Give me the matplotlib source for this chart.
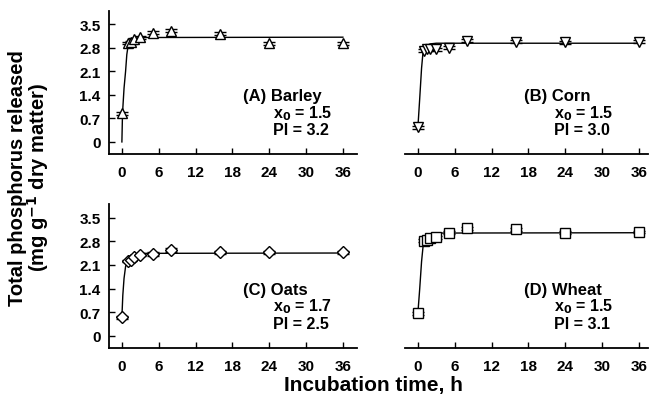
import numpy as np
import matplotlib.pyplot as plt

plt.rcParams['font.family'] = ['Liberation Sans', 'DejaVu Sans']
plt.rcParams['font.weight'] = 'bold'

times = [0, 1, 1.5, 2, 3, 5, 8, 16, 24, 36]

barley = [0.85, 2.95, 2.97, 3.06, 3.12, 3.25, 3.31, 3.22, 2.94, 2.94]
corn = [0.43, 2.72, 2.76, 2.77, 2.76, 2.81, 3.02, 2.99, 2.97, 2.99]
oats = [0.55, 2.21, 2.24, 2.32, 2.39, 2.42, 2.54, 2.47, 2.47, 2.47]
wheat = [0.67, 2.81, 2.83, 2.88, 2.91, 3.05, 3.18, 3.15, 3.05, 3.07]
err = [0.04, 0.04, 0.04, 0.04, 0.04, 0.05, 0.05, 0.04, 0.04, 0.04]

# fitted curves
barley_fit_t = [0, 0.1, 0.35, 0.6, 0.8, 1.0, 1.5, 2, 3, 36]
barley_fit = [0, 0.85, 1.6, 2.1, 2.6, 2.85, 3.02, 3.08, 3.11, 3.12]
corn_fit_t = [0, 0.3, 0.6, 0.85, 1.2, 2, 3, 36]
corn_fit = [0.43, 1.3, 2.2, 2.7, 2.85, 2.92, 2.94, 2.94]
oats_fit_t = [0, 0.15, 0.35, 0.6, 1, 1.5, 2, 3, 36]
oats_fit = [0.55, 1.2, 1.7, 2.05, 2.25, 2.35, 2.4, 2.44, 2.45]
wheat_fit_t = [0, 0.3, 0.6, 0.9, 1.3, 2, 3, 36]
wheat_fit = [0.67, 1.4, 2.2, 2.75, 2.92, 3.0, 3.04, 3.05]

labels = ['(A) Barley', '(B) Corn', '(C) Oats', '(D) Wheat']
x0_vals = ['1.5', '1.5', '1.7', '1.5']
pi_vals = ['3.2', '3.0', '2.5', '3.1']
yticks = [0, 0.7, 1.4, 2.1, 2.8, 3.5]
xticks = [0, 6, 12, 18, 24, 30, 36]

panels = [
    (barley, barley_fit_t, barley_fit, '^'),
    (corn, corn_fit_t, corn_fit, 'v'),
    (oats, oats_fit_t, oats_fit, 'D'),
    (wheat, wheat_fit_t, wheat_fit, 's'),
]

fig = plt.figure(figsize=(6.5, 4.02), dpi=100)
W, H = 650, 402
boxes = [
    (109, 12, 357, 155),
    (405, 12, 648, 155),
    (109, 205, 357, 349),
    (405, 205, 648, 349),
]

for k, (box, (vals, ft, fv, mk)) in enumerate(zip(boxes, panels)):
    x1, y1, x2, y2 = box
    ax = fig.add_axes([x1 / W, 1 - y2 / H, (x2 - x1) / W, (y2 - y1) / H])
    left = k % 2 == 0
    ax.plot(ft, fv, color='black', lw=1.0, zorder=2)
    ms = 6 if mk == 'D' else 7
    ax.errorbar(times, vals, yerr=err, fmt=mk, ms=ms, mfc='white', mec='black',
                mew=1.0, ecolor='black', elinewidth=1.0, capsize=4.5, capthick=1.0,
                zorder=3)
    ax.set_xlim(-2.1, 38.3 if left else 37.5)
    ax.set_ylim(-0.36, 3.9)
    ax.set_xticks(xticks)
    ax.spines['top'].set_visible(False)
    ax.spines['right'].set_visible(False)
    ax.spines['bottom'].set_linewidth(1.3)
    ax.spines['left'].set_linewidth(1.3)
    ax.tick_params(direction='in', length=4, width=1, labelsize=11, pad=6)
    ax.tick_params(axis='x', pad=8)
    if left:
        ax.set_yticks(yticks)
        ax.set_yticklabels(['0', '0.7', '1.4', '2.1', '2.8', '3.5'])
    else:
        ax.spines['left'].set_visible(False)
        ax.set_yticks([])
    for lab in ax.get_xticklabels() + ax.get_yticklabels():
        lab.set_fontweight('bold')
    tx = 19.8 if left else 17.3
    ax.text(tx, 1.38, labels[k], fontsize=12, fontweight='bold', ha='left', va='center')
    ax.text(tx + 4.8, 0.88, r'x$_\mathbf{0}$ = ' + x0_vals[k], fontsize=11.5,
            fontweight='bold', ha='left', va='center')
    ax.text(tx + 4.8, 0.36, 'Pl = ' + pi_vals[k], fontsize=11.5, fontweight='bold',
            ha='left', va='center')

fig.text(18 / W, 1 - 178 / H, 'Total phosphorus released', rotation=90,
         fontsize=14.5, fontweight='bold', ha='center', va='center')
fig.text(38 / W, 1 - 178 / H, r'(mg g$^{\mathbf{-1}}$ dry matter)', rotation=90,
         fontsize=14.5, fontweight='bold', ha='center', va='center')
fig.text(373 / W, 1 - 386 / H, 'Incubation time, h', fontsize=15,
         fontweight='bold', ha='center', va='center')

fig.savefig('out.png', dpi=100)
